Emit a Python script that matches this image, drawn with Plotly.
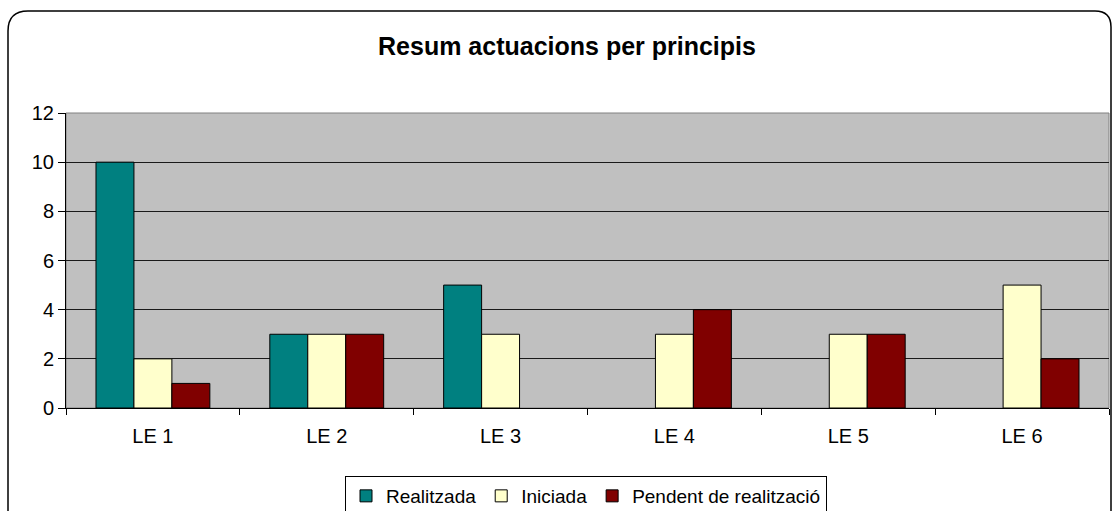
import plotly.graph_objects as go

categories = ["LE 1", "LE 2", "LE 3", "LE 4", "LE 5", "LE 6"]
realitzada = [10, 3, 5, None, None, None]
iniciada = [2, 3, 3, 3, 3, 5]
pendent = [1, 3, None, 4, 3, 2]
series_names = ["Realitzada", "Iniciada", "Pendent de realització"]
colors = ["#008080", "#FFFFCC", "#800000"]
y_ticks = [0, 2, 4, 6, 8, 10, 12]

W, H = 1112, 540  # taller than the window so the bottom is clipped like the reference
L, R, T = 66, 3, 113
B = H - 408
pw, ph = W - L - R, H - T - B

def px(x):
    return (x - L) / pw

def py(y):
    return (H - B - y) / ph

fig = go.Figure()
for name, vals, c in zip(series_names, [realitzada, iniciada, pendent], colors):
    fig.add_trace(go.Bar(x=categories, y=vals, name=name,
                         marker=dict(color=c, line=dict(color="black", width=1))))

font = "Liberation Sans, Arial, sans-serif"
fig.update_layout(
    width=W, height=H,
    margin=dict(l=L, r=R, t=T, b=B),
    paper_bgcolor="white",
    plot_bgcolor="#C0C0C0",
    barmode="group", bargap=0.345, bargroupgap=0,
    font=dict(family=font, size=20, color="black"),
    title=dict(text="<b>Resum actuacions per principis</b>", x=567 / W, xanchor="center",
               y=1 - 46 / H, yanchor="middle", font=dict(size=25, family=font)),
    showlegend=True,
    legend=dict(orientation="h", x=px(586), xanchor="center", y=py(476), yanchor="top",
                bordercolor="black", borderwidth=1, font=dict(size=19),
                itemwidth=30, tracegroupgap=0, traceorder="normal"),
    xaxis=dict(showline=True, linecolor="black", linewidth=1, ticks="outside", tickson="boundaries",
               ticklen=6, tickcolor="black", showgrid=False, tickfont=dict(size=20),
               ticklabelstandoff=10),
    yaxis=dict(range=[0, 12], tickvals=y_ticks, showline=True, linecolor="black", linewidth=1,
               ticks="outside", ticklen=7, tickcolor="black", showgrid=True, gridcolor="#1a1a1a",
               gridwidth=1, zeroline=False, tickfont=dict(size=20)),
    shapes=[
        dict(type="rect", xref="paper", yref="paper", x0=0, x1=1, y0=0, y1=1,
             line=dict(color="#808080", width=1), layer="below"),
        dict(type="path", xref="paper", yref="paper",
             path=f"M {px(8)},{py(560)} L {px(8)},{py(31)} Q {px(8)},{py(11)} {px(28)},{py(11)} "
                  f"L {px(1095)},{py(11)} Q {px(1111)},{py(11)} {px(1111)},{py(27)} L {px(1111)},{py(560)}",
             line=dict(color="black", width=1.5)),
    ],
)
fig.write_html("out.html", config={"displayModeBar": False},
               post_script="document.body.style.margin='0';document.body.style.overflow='hidden';")
